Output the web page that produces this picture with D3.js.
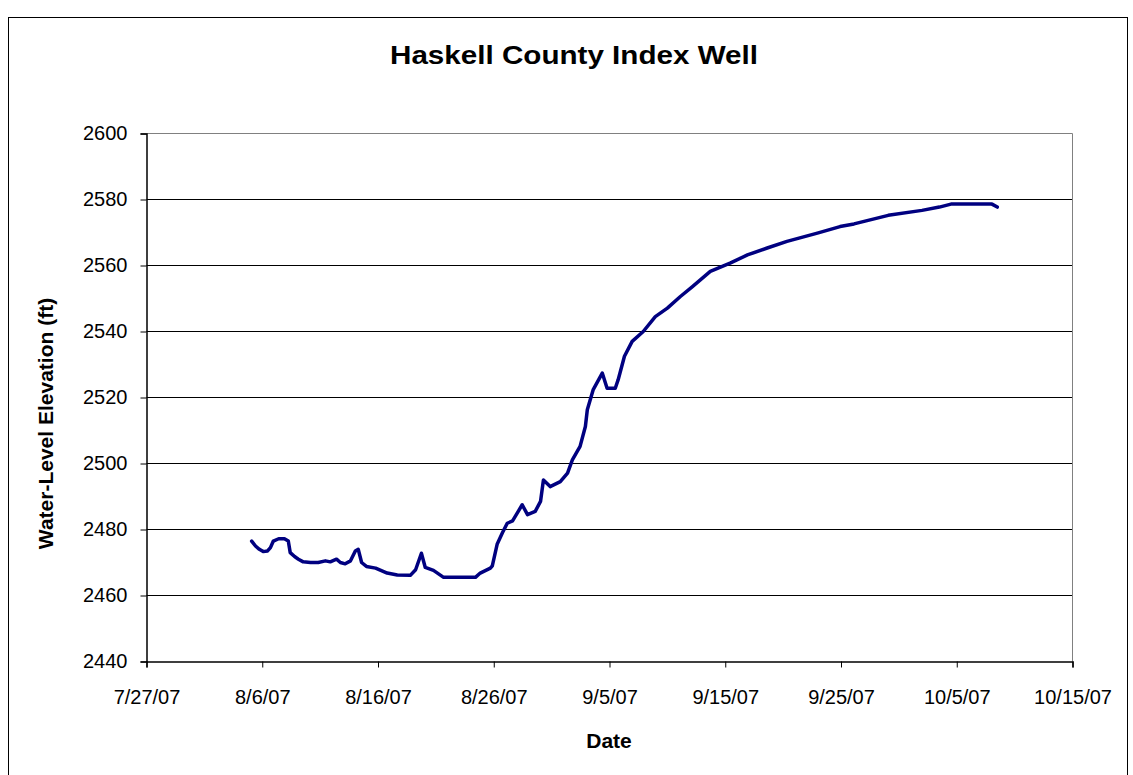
<!DOCTYPE html>
<html>
<head>
<meta charset="utf-8">
<script src="https://cdn.jsdelivr.net/npm/d3@7"></script>
<style>
  body { margin: 0; background: #fff; }
  text { font-family: "Liberation Sans", Arial, sans-serif; }
</style>
</head>
<body>
<div id="my_dataviz"></div>
<script>
// readings off the hydrograph (m/d/yy hh:mm)
var dates = [
  "8/5/07 02:00", "8/5/07 10:00", "8/5/07 18:00", "8/6/07 02:00", "8/6/07 11:00",
  "8/6/07 17:00", "8/6/07 23:00", "8/7/07 10:00", "8/7/07 22:00", "8/8/07 06:00",
  "8/8/07 10:00", "8/8/07 19:00", "8/9/07 03:00", "8/9/07 13:00", "8/10/07 04:00",
  "8/10/07 20:00", "8/11/07 11:00", "8/11/07 21:00", "8/12/07 10:00", "8/12/07 18:00",
  "8/13/07 04:00", "8/13/07 15:00", "8/14/07 01:00", "8/14/07 07:00", "8/14/07 14:00",
  "8/15/07 00:00", "8/15/07 19:00", "8/16/07 19:00", "8/17/07 16:00", "8/18/07 19:00",
  "8/19/07 06:00", "8/19/07 18:00", "8/20/07 02:00", "8/20/07 19:00", "8/21/07 16:00",
  "8/24/07 10:00", "8/24/07 20:00", "8/25/07 17:00", "8/25/07 21:00", "8/26/07 07:00",
  "8/26/07 18:00", "8/27/07 04:00", "8/27/07 15:00", "8/28/07 11:00", "8/28/07 22:00",
  "8/29/07 14:00", "8/30/07 01:00", "8/30/07 07:00", "8/30/07 21:00", "8/31/07 18:00",
  "9/1/07 09:00", "9/1/07 19:00", "9/2/07 11:00", "9/2/07 22:00", "9/3/07 02:00",
  "9/3/07 14:00", "9/4/07 09:00", "9/4/07 19:00", "9/5/07 12:00", "9/5/07 18:00",
  "9/6/07 07:00", "9/6/07 23:00", "9/7/07 22:00", "9/8/07 23:00", "9/10/07 00:00",
  "9/11/07 03:00", "9/12/07 04:00", "9/13/07 17:00", "9/15/07 10:00", "9/16/07 22:00",
  "9/18/07 15:00", "9/20/07 08:00", "9/22/07 23:00", "9/24/07 22:00", "9/26/07 03:00",
  "9/29/07 02:00", "10/2/07 00:00", "10/3/07 12:00", "10/4/07 12:00", "10/8/07 01:00",
  "10/8/07 12:00"
];
var elevations = [
  2476.5, 2475.0, 2474.0, 2473.3, 2473.5,
  2474.5, 2476.5, 2477.2, 2477.2, 2476.5,
  2473.0, 2471.8, 2471.0, 2470.2, 2470.0,
  2470.0, 2470.5, 2470.2, 2471.0, 2470.0,
  2469.6, 2470.5, 2473.5, 2474.0, 2470.0,
  2468.8, 2468.3, 2466.8, 2466.2, 2466.1,
  2467.8, 2472.8, 2468.5, 2467.6, 2465.5,
  2465.5, 2466.8, 2468.3, 2469.0, 2475.5,
  2479.0, 2481.9, 2482.6, 2487.5, 2484.5,
  2485.5, 2488.5, 2495.0, 2493.0, 2494.5,
  2497.1, 2501.1, 2505.2, 2511.2, 2516.3,
  2522.3, 2527.4, 2522.8, 2522.8, 2525.4,
  2532.5, 2537.0, 2540.0, 2544.5, 2547.1,
  2550.6, 2553.6, 2558.2, 2560.7, 2563.2,
  2565.3, 2567.3, 2569.8, 2571.8, 2572.6,
  2575.2, 2576.7, 2577.7, 2578.6, 2578.6,
  2577.7
];
var xTicks = ["7/27/07", "8/6/07", "8/16/07", "8/26/07", "9/5/07", "9/15/07", "9/25/07", "10/5/07", "10/15/07"];
var yTicks = [2440, 2460, 2480, 2500, 2520, 2540, 2560, 2580, 2600];

var parseTime = d3.timeParse("%m/%d/%y %H:%M");
var parseDay = d3.timeParse("%m/%d/%y");
var data = dates.map(function (d, i) { return { date: parseTime(d), value: elevations[i] }; });
var tickDates = xTicks.map(function (d) { return parseDay(d); });

var W = 1133, H = 775;
var margin = { top: 133.5, right: 60.5, bottom: 113.5, left: 146.5 },
    width = W - margin.left - margin.right,
    height = H - margin.top - margin.bottom;

var root = d3.select("#my_dataviz")
    .append("svg")
    .attr("width", W)
    .attr("height", H);

// chart border
root.append("rect")
    .attr("x", 8.5).attr("y", 17.5)
    .attr("width", 1119).attr("height", 800)
    .attr("fill", "none")
    .attr("stroke", "#000")
    .attr("stroke-width", 1);

var svg = root.append("g")
    .attr("transform", "translate(" + margin.left + "," + margin.top + ")");

var x = d3.scaleTime()
    .domain([tickDates[0], tickDates[tickDates.length - 1]])
    .range([0, width]);

var y = d3.scaleLinear()
    .domain([2440, 2600])
    .range([height, 0]);

// gridlines
svg.selectAll("grid")
    .data(yTicks.slice(1, -1))
    .enter()
    .append("line")
    .attr("x1", 0).attr("x2", width)
    .attr("y1", function (d) { return y(d); })
    .attr("y2", function (d) { return y(d); })
    .attr("stroke", "#000")
    .attr("stroke-width", 1);

// plot area frame (top, right)
svg.append("path")
    .attr("d", "M0,0H" + width + "V" + height)
    .attr("fill", "none")
    .attr("stroke", "#808080")
    .attr("stroke-width", 1);

var xAxis = svg.append("g")
    .attr("transform", "translate(0," + height + ")")
    .call(d3.axisBottom(x)
        .tickValues(tickDates)
        .tickFormat(function (d, i) { return xTicks[i]; })
        .tickSize(6)
        .tickPadding(22));
xAxis.selectAll("text")
    .style("font-size", "20px")
    .attr("fill", "#000");

var yAxis = svg.append("g")
    .call(d3.axisLeft(y)
        .tickValues(yTicks)
        .tickFormat(d3.format("d"))
        .tickSize(6)
        .tickPadding(13));
yAxis.selectAll("text")
    .style("font-size", "20px")
    .attr("fill", "#000");

[xAxis, yAxis].forEach(function (a) {
    a.select(".domain").attr("stroke", "#000").attr("stroke-width", 1.5);
    a.selectAll(".tick line").attr("stroke", "#000");
});

svg.append("path")
    .datum(data)
    .attr("fill", "none")
    .attr("stroke", "#000080")
    .attr("stroke-width", 3.5)
    .attr("stroke-linejoin", "round")
    .attr("stroke-linecap", "round")
    .attr("d", d3.line()
        .x(function (d) { return x(d.date); })
        .y(function (d) { return y(d.value); }));

root.append("text")
    .attr("x", 574)
    .attr("y", 64)
    .style("text-anchor", "middle")
    .style("font-size", "26px")
    .style("font-weight", "bold")
    .attr("textLength", 368)
    .attr("lengthAdjust", "spacingAndGlyphs")
    .text("Haskell County Index Well");

root.append("text")
    .attr("x", 609)
    .attr("y", 748)
    .style("text-anchor", "middle")
    .style("font-size", "21px")
    .style("font-weight", "bold")
    .text("Date");

root.append("text")
    .attr("transform", "translate(53," + (margin.top + height / 2 + 26) + ") rotate(-90)")
    .style("text-anchor", "middle")
    .style("font-size", "21px")
    .style("font-weight", "bold")
    .text("Water-Level Elevation (ft)");
</script>
</body>
</html>
